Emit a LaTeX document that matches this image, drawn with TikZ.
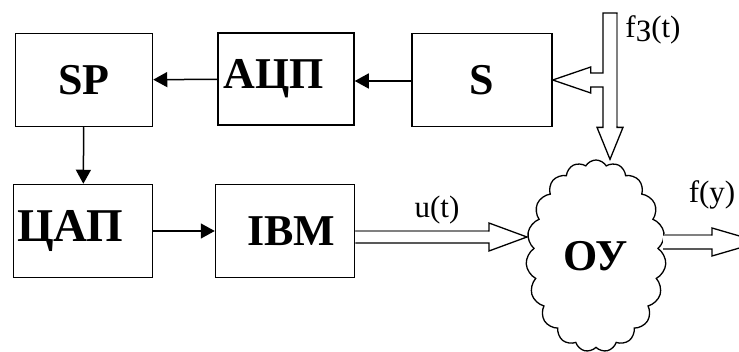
\documentclass[tikz,border=0pt]{standalone}
\usepackage{fontspec}
\setmainfont{Liberation Serif}
\usetikzlibrary{arrows.meta,calc,shapes.symbols}

\tikzset{
  box/.style={draw, line width=1.5pt, fill=white, minimum width=137pt, minimum height=93pt,
              inner sep=0pt, font=\bfseries\fontsize{44}{44}\selectfont},
  lbl/.style={inner sep=0pt, font=\fontsize{31}{31}\selectfont},
  flow/.style={draw, line width=1.5pt, -{Triangle[length=14pt,width=15pt]}},
  hollow/.style={draw, line width=1.3pt, fill=white, line join=miter},
  shade/.style={draw=gray, line width=2.6pt}
}

\begin{document}
\begin{tikzpicture}[x=1pt,y=-1pt]
  \useasboundingbox (0,0) rectangle (739,352);

  % blocks
  \node[box] (sp)  at (84,80)  {SP};
  \node[box, minimum width=136pt, minimum height=92pt] (adc) at (286,79) {АЦП\kern24pt};
  \node[box, minimum width=140pt] (s) at (482,80) {S};
  \node[box, minimum width=139pt] (dac) at (83,231) {\fontsize{47}{47}\selectfont ЦАП\kern26pt};
  \node[box, minimum width=139pt] (ibm) at (285,231) {\kern12pt IBM};
  \node[cloud, draw, line width=1.3pt, fill=white, cloud puffs=19, cloud puff arc=120,
        aspect=0.73, minimum width=140pt, minimum height=192pt, inner sep=0pt,
        font=\bfseries\fontsize{44}{44}\selectfont] (plant) at (596,256) {ОУ};

  % signal lines
  \draw[flow] (s.west |- 0,81) -- (adc.east |- 0,81);
  \draw[flow] (adc) -- (sp);
  \draw[flow] (sp) -- (dac);
  \draw[flow] (dac) -- (ibm);

  % u(t)
  \coordinate (uin) at ($(ibm.east)+(0,6)$);
  \coordinate (utip) at (plant.west |- uin);
  \draw[hollow] ($(uin)+(0,-6)$) -- ($(utip)+(-38,-6)$) -- ($(utip)+(-38,-14)$) -- (utip)
    -- ($(utip)+(-38,14)$) -- ($(utip)+(-38,6)$) -- ($(uin)+(0,6)$);
  \draw[shade] ($(uin)+(1,-6)$) -- ($(utip)+(-39,-6)$);
  \node[lbl] (ulbl) at (437,210) {u(t)};

  % f(y)
  \coordinate (fout) at ($(plant.east)+(-2,-14)$);
  \coordinate (ftip) at ($(fout)+(97,0)$);
  \draw[hollow] ($(fout)+(0,-7)$) -- ($(ftip)+(-48,-7)$) -- ($(ftip)+(-48,-14)$) -- (ftip)
    -- ($(ftip)+(-48,14)$) -- ($(ftip)+(-48,7)$) -- ($(fout)+(0,7)$);
  \draw[shade] ($(fout)+(1,-7)$) -- ($(ftip)+(-49,-7)$);
  \node[lbl] (flbl) at (712,195) {f(y)};

  % disturbance
  \coordinate (f3) at (610,13);
  \coordinate (f3tip) at (f3 |- plant.north);
  \draw[hollow] ($(f3)+(-7,0)$) -- ($(f3)+(7,0)$) -- ($(f3tip)+(7,-32)$) -- ($(f3tip)+(13,-32)$)
    -- (f3tip) -- ($(f3tip)+(-13,-32)$) -- ($(f3tip)+(-7,-32)$)
    -- ($(f3 |- s.east)+(-7,7)$) -- ($(s.east)+(38,7)$) -- ($(s.east)+(38,13)$) -- (s.east)
    -- ($(s.east)+(38,-13)$) -- ($(s.east)+(38,-7)$) -- ($(f3 |- s.east)+(-7,-7)$) -- cycle;
  \draw[shade] ($(f3)+(7,1)$) -- ($(f3tip)+(7,-33)$);
  \node[lbl] (f3lbl) at (653,30) {f\raisebox{-4pt}{З}(t)};
\end{tikzpicture}
\end{document}
